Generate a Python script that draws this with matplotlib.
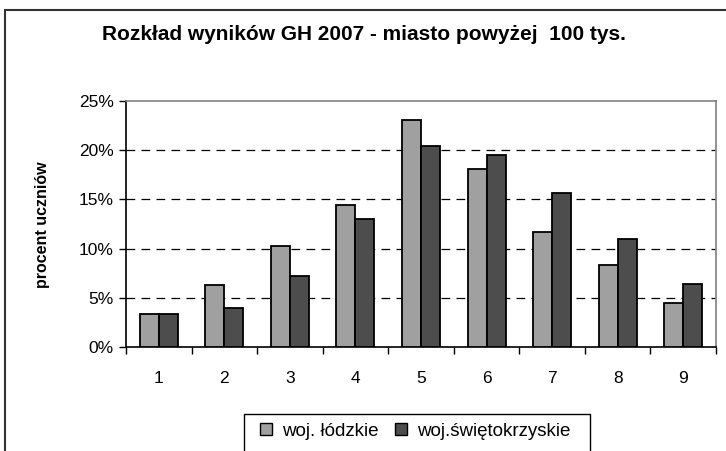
import matplotlib
matplotlib.use("Agg")
import matplotlib.pyplot as plt
from matplotlib.patches import Patch, Rectangle
import numpy as np

plt.rcParams['font.family'] = ['Liberation Sans', 'DejaVu Sans']

categories = ['1', '2', '3', '4', '5', '6', '7', '8', '9']
lodzkie = [3.4, 6.3, 10.3, 14.4, 23.1, 18.1, 11.7, 8.3, 4.5]
swietokrzyskie = [3.4, 4.0, 7.2, 13.0, 20.4, 19.5, 15.7, 11.0, 6.4]
series_names = ['woj. łódzkie', 'woj.świętokrzyskie']
title = 'Rozkład wyników GH 2007 - miasto powyżej  100 tys.'
ylabel = 'procent uczniów'
yticks = [0, 5, 10, 15, 20, 25]

c_light = '#A0A0A0'
c_dark = '#4D4D4D'

fig = plt.figure(figsize=(7.26, 4.51), dpi=100)
ax = fig.add_axes([126/726, 1 - 347/451, (716-126)/726, (347-101)/451])

x = np.arange(1, len(categories) + 1)
w = 0.29
ax.bar(x - w/2, lodzkie, w, color=c_light, edgecolor='black', linewidth=1.3, zorder=3)
ax.bar(x + w/2, swietokrzyskie, w, color=c_dark, edgecolor='black', linewidth=1.3, zorder=3)

ax.set_xlim(0.5, len(categories) + 0.5)
ax.set_ylim(0, 25)
ax.set_yticks(yticks)
ax.set_yticklabels([f'{v}%' for v in yticks], fontsize=12.5)
ax.set_xticks(x)
ax.set_xticklabels(categories, fontsize=12.5)
ax.set_xticks(np.arange(0.5, len(categories) + 1, 1), minor=True)
ax.tick_params(axis='x', which='major', length=0, pad=17)
ax.tick_params(axis='x', which='minor', length=5, width=1, direction='out')
ax.tick_params(axis='y', length=5, width=1, direction='out', pad=4)

for v in yticks[1:-1]:
    ax.axhline(v, color='black', linestyle=(0, (7, 5)), linewidth=0.9, zorder=1)

ax.spines['left'].set_color('black')
ax.spines['bottom'].set_color('black')
ax.spines['left'].set_linewidth(1.2)
ax.spines['bottom'].set_linewidth(1.2)
ax.spines['top'].set_color('#808080')
ax.spines['right'].set_color('#808080')
ax.spines['top'].set_linewidth(1.2)
ax.spines['right'].set_linewidth(1.2)

fig.text(42/726, 1 - 225/451, ylabel, rotation=90, ha='center', va='center',
         fontsize=11.5, fontweight='bold')

fig.text(364/726, 1 - 35/451, title, ha='center', va='center', fontsize=15, fontweight='bold')

# outer chart border (cropped at right/bottom)
fig.patches.append(Rectangle((5/726, -0.2), 1.5, 1 - 10/451 + 0.2, transform=fig.transFigure,
                             fill=False, edgecolor='#333333', linewidth=1.5, zorder=0))

# legend frame (cropped at bottom)
fig.patches.append(Rectangle((244/726, -0.05), (590-244)/726, (451-414)/451 + 0.05,
                             transform=fig.transFigure, fill=False, edgecolor='black',
                             linewidth=1.0, zorder=1))

handles = [Patch(facecolor=c_light, edgecolor='black', linewidth=1.0),
           Patch(facecolor=c_dark, edgecolor='black', linewidth=1.0)]
leg = fig.legend(handles, series_names, loc='center', bbox_to_anchor=(415/726, 1 - 431/451),
                 ncol=2, fontsize=13.5, frameon=False,
                 borderpad=0, borderaxespad=0, handlelength=0.65, handleheight=0.65,
                 handletextpad=0.5, columnspacing=0.9)

fig.savefig('out.png', dpi=100)
